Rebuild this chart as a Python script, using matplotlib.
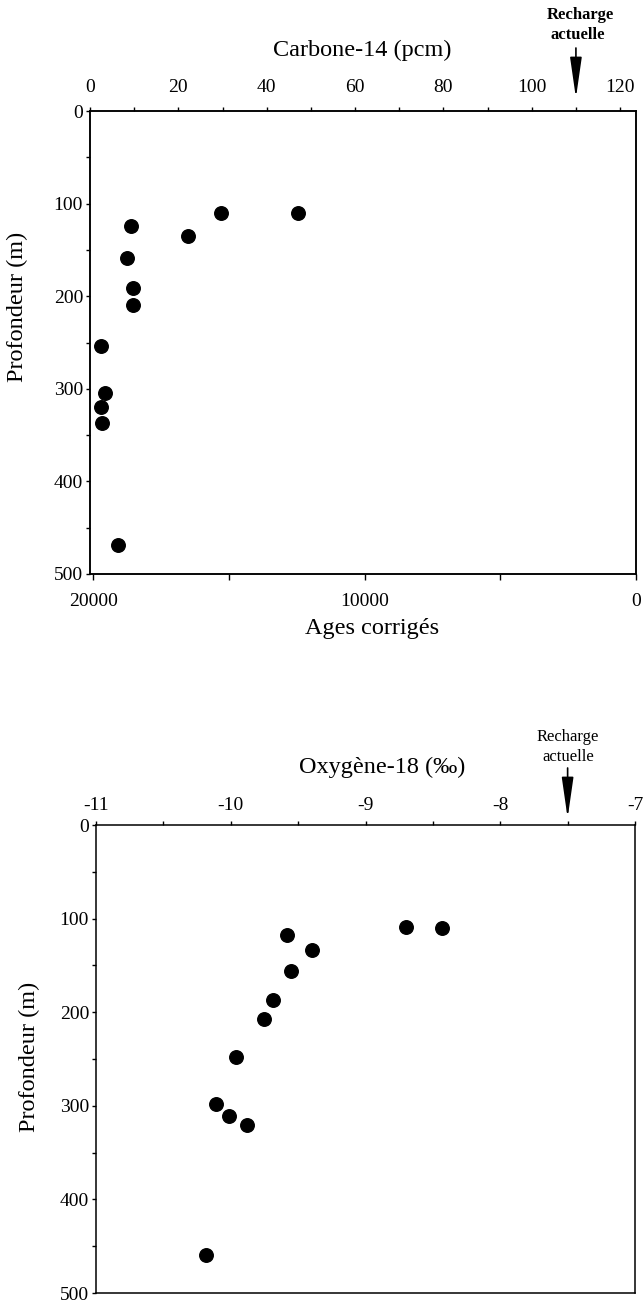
import matplotlib
matplotlib.use("Agg")
import matplotlib.pyplot as plt
from matplotlib.ticker import MultipleLocator, FixedLocator, FuncFormatter
from matplotlib.transforms import blended_transform_factory

plt.rcParams['font.family'] = ['Liberation Serif', 'DejaVu Serif']

# ---- Data: Carbone-14 panel ----
c14_pcm = [47.1, 29.7, 9.3, 22.1, 8.3, 9.8, 9.8, 2.4, 3.3, 2.4, 2.8, 6.3]
c14_depth = [110, 110, 124, 135, 159, 191, 210, 254, 304, 320, 337, 469]
c14_recharge = 110

age_major_ticks = [20000, 10000, 0]
age_minor_ticks = [15000, 5000]

# ---- Data: Oxygene-18 panel ----
o18_val = [-8.70, -8.43, -9.58, -9.40, -9.55, -9.69, -9.75, -9.96, -10.11, -10.01, -9.88, -10.18]
o18_depth = [109, 110, 118, 134, 156, 187, 207, 248, 298, 311, 320, 459]
o18_recharge = -7.5

W, H = 643, 1303
fig = plt.figure(figsize=(W / 100, H / 100), dpi=100)

def fx(px):
    return px / W

def fy(py):
    return 1 - py / H

tick_fs = 14
title_fs = 17.5
rech_fs = 12

def style_axes(ax):
    for s in ax.spines.values():
        s.set_linewidth(1.1)
    ax.tick_params(which='both', direction='out', width=1.0, labelsize=tick_fs)
    ax.tick_params(which='major', length=3)
    ax.tick_params(which='minor', length=3)

# ---------------- Top panel ----------------
ax1 = fig.add_axes([fx(90), fy(574), fx(636) - fx(90), fy(111) - fy(574)])
ax_age = ax1.twiny()

ax1.scatter(c14_pcm, c14_depth, s=95, color='black', zorder=3, clip_on=False)
ax1.set_xlim(0, 123.6)
ax1.set_ylim(500, 0)
ax1.xaxis.set_major_locator(MultipleLocator(20))
ax1.xaxis.set_minor_locator(MultipleLocator(10))
ax1.yaxis.set_major_locator(MultipleLocator(100))
ax1.yaxis.set_minor_locator(MultipleLocator(50))
style_axes(ax1)
ax1.tick_params(axis='x', which='both', top=True, bottom=False,
                labeltop=True, labelbottom=False, pad=8)
ax1.tick_params(axis='y', which='both', left=True, right=False, pad=2)

ax_age.set_xlim(20120, 0)
ax_age.xaxis.set_major_locator(FixedLocator(age_major_ticks))
ax_age.xaxis.set_minor_locator(FixedLocator(age_minor_ticks))
style_axes(ax_age)
ax_age.tick_params(axis='x', which='both', top=False, bottom=True,
                   labeltop=False, labelbottom=True, pad=10, length=4)

fig.text(fx(362), fy(50), 'Carbone-14 (pcm)', fontsize=title_fs, ha='center', va='center')
fig.text(fx(372), fy(628), 'Ages corrigés', fontsize=title_fs, ha='center', va='center')
fig.text(fx(17), fy(307), 'Profondeur (m)', fontsize=title_fs, ha='center', va='center', rotation=90)

tr1 = blended_transform_factory(ax1.transData, fig.transFigure)
ax1.annotate('', xy=(c14_recharge, fy(98)), xycoords=tr1,
             xytext=(c14_recharge, fy(48)), textcoords=tr1,
             arrowprops=dict(arrowstyle='-|>,head_length=2.5,head_width=0.36',
                             mutation_scale=10, lw=1.2, color='black',
                             shrinkA=0, shrinkB=0), annotation_clip=False)
fig.text(fx(580), fy(15), 'Recharge', fontsize=rech_fs, fontweight='bold',
         ha='center', va='center')
fig.text(fx(578), fy(35), 'actuelle', fontsize=rech_fs, fontweight='bold',
         ha='center', va='center')

# ---------------- Bottom panel ----------------
ax2 = fig.add_axes([fx(96), fy(1293), fx(635) - fx(96), fy(825) - fy(1293)])
ax2.scatter(o18_val, o18_depth, s=95, color='black', zorder=3, clip_on=False)
ax2.set_xlim(-11, -7)
ax2.set_ylim(500, 0)
ax2.xaxis.tick_top()
ax2.xaxis.set_major_locator(MultipleLocator(1))
ax2.xaxis.set_minor_locator(MultipleLocator(0.5))
ax2.xaxis.set_major_formatter(FuncFormatter(lambda v, p: f'{v:.0f}'))
ax2.yaxis.set_major_locator(MultipleLocator(100))
ax2.yaxis.set_minor_locator(MultipleLocator(50))
style_axes(ax2)
ax2.tick_params(axis='x', which='both', top=True, bottom=False, pad=5)
ax2.tick_params(axis='y', which='both', left=True, right=False, pad=2)

fig.text(fx(382), fy(767), 'Oxygène-18 (‰)', fontsize=title_fs, ha='center', va='center')
fig.text(fx(29), fy(1057), 'Profondeur (m)', fontsize=title_fs, ha='center', va='center', rotation=90)

tr2 = blended_transform_factory(ax2.transData, fig.transFigure)
ax2.annotate('', xy=(o18_recharge, fy(818)), xycoords=tr2,
             xytext=(o18_recharge, fy(768)), textcoords=tr2,
             arrowprops=dict(arrowstyle='-|>,head_length=2.5,head_width=0.36',
                             mutation_scale=10, lw=1.2, color='black',
                             shrinkA=0, shrinkB=0), annotation_clip=False)
fig.text(fx(568), fy(737), 'Recharge', fontsize=rech_fs, ha='center', va='center')
fig.text(fx(568), fy(757), 'actuelle', fontsize=rech_fs, ha='center', va='center')

fig.savefig('out.png', dpi=100)
